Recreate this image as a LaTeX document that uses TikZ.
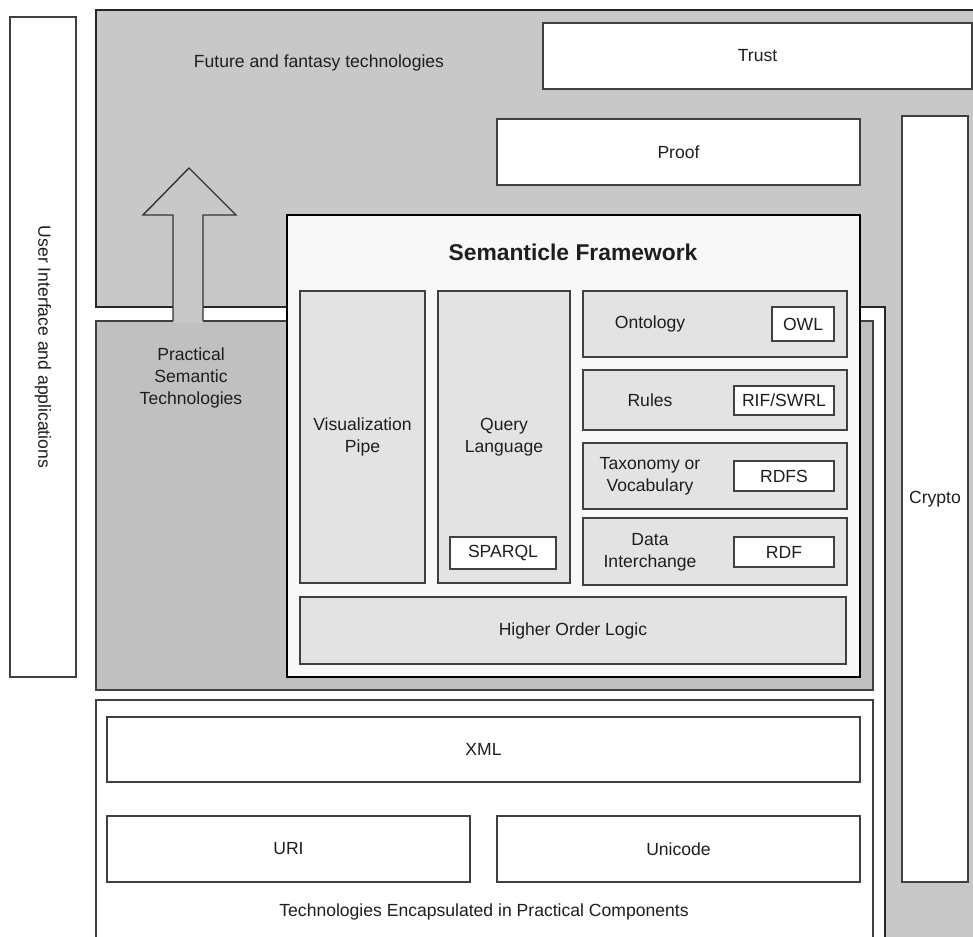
\documentclass[tikz,border=0pt]{standalone}
\usepackage{fontspec}
\setmainfont{Liberation Sans}
\usetikzlibrary{fit}
\definecolor{topgrey}{HTML}{C8C8C8}
\definecolor{midgrey}{HTML}{C0C0C0}
\definecolor{fwfill}{HTML}{F8F8F8}
\definecolor{innerfill}{HTML}{E3E3E3}
\definecolor{edge}{HTML}{404040}
\definecolor{txt}{HTML}{1E1E1E}
\begin{document}
\begin{tikzpicture}[x=0.02cm,y=-0.02cm,
  font=\fontsize{10}{12.5}\selectfont,
  box/.style={draw=edge, line width=0.8pt, inner sep=0pt},
  whitebox/.style={box, fill=white},
  greybox/.style={box, fill=innerfill},
  region/.style={draw=edge, line width=0.9pt},
  lbl/.style={text=txt, align=center, inner sep=0pt}]
\useasboundingbox (0,0) rectangle (973,936);
\clip (0,0) rectangle (973,936);

% future region (L-shaped)
\draw[region, fill=topgrey, draw=black!85] (96,10) -- (990,10) -- (990,950) -- (885,950) -- (885,307) -- (96,307) -- cycle;
% practical region
\node[region, fill=midgrey, fit={(96,321) (873,690)}, inner sep=0pt] (practical) {};
% arrow
\fill[topgrey] (173,322.5) -- (173,215) -- (143,215) -- (189,168) -- (236,215) -- (203,215) -- (203,322.5) -- cycle;
\draw[draw=black!80, line width=0.8pt, line join=miter] (173,321) -- (173,215) -- (143,215) -- (189,168) -- (236,215) -- (203,215) -- (203,321);
% encapsulated region
\node[region, fill=white, fit={(96,700) (873,950)}, inner sep=0pt] (encaps) {};

% user interface
\node[whitebox, fit={(10,17) (76,677)}] (ui) {};
\node[lbl, rotate=-90] at (ui.center) {User Interface and applications};

% top boxes
\node[whitebox, fit={(543,23) (972,89)}] (trust) {};
\node[lbl] at (trust.center) {Trust};
\node[whitebox, fit={(497,119) (860,185)}] (proof) {};
\node[lbl] at (proof.center) {Proof};
\node[whitebox, fit={(902,116) (968,882)}] (crypto) {};
\node[lbl] at (crypto.center) {Crypto};

% framework
\node[draw=black, line width=1.5pt, fill=fwfill, fit={(287,215) (860,677)}, inner sep=0pt] (fw) {};
\node[lbl, font=\fontsize{13}{15}\selectfont\bfseries] (fwtitle) at (573,252) {Semanticle Framework};

\node[greybox, fit={(300,291) (425,583)}] (vis) {};
\node[lbl] at (vis.center) {Visualization\\Pipe};
\node[greybox, fit={(438,291) (570,583)}] (query) {};
\node[lbl] at (query.center) {Query\\Language};
\node[whitebox, fit={(450,537) (556,569)}] (sparql) {};
\node[lbl] at (sparql.center) {SPARQL};

\node[greybox, fit={(583,291) (847,357)}] (onto) {};
\node[lbl] at (650,324) {Ontology};
\node[whitebox, fit={(772,307) (834,341)}] (owl) {};
\node[lbl] at (owl.center) {OWL};

\node[greybox, fit={(583,370) (847,430)}] (rules) {};
\node[lbl] at (650,400) {Rules};
\node[whitebox, fit={(734,386) (834,415)}] (rif) {};
\node[lbl] at (rif.center) {RIF/SWRL};

\node[greybox, fit={(583,443) (847,509)}] (taxo) {};
\node[lbl] at (650,476) {Taxonomy or\\Vocabulary};
\node[whitebox, fit={(734,461) (834,491)}] (rdfs) {};
\node[lbl] at (rdfs.center) {RDFS};

\node[greybox, fit={(583,518) (847,585)}] (data) {};
\node[lbl] at (650,552) {Data\\Interchange};
\node[whitebox, fit={(734,537) (834,567)}] (rdf) {};
\node[lbl] at (rdf.center) {RDF};

\node[greybox, fit={(300,597) (846,664)}] (hol) {};
\node[lbl] at (hol.center) {Higher Order Logic};

% region labels
\node[lbl] at (319,63) {Future and fantasy technologies};
\node[lbl] at (191,378) {Practical\\Semantic\\Technologies};

% bottom boxes
\node[whitebox, fit={(107,717) (860,782)}] (xml) {};
\node[lbl] at (xml.center) {XML};
\node[whitebox, fit={(107,816) (470,882)}] (uri) {};
\node[lbl] at (uri.center) {URI};
\node[whitebox, fit={(497,816) (860,882)}] (unicode) {};
\node[lbl] at (unicode.center) {Unicode};
\node[lbl] at (484,912) {Technologies Encapsulated in Practical Components};
\end{tikzpicture}
\end{document}
